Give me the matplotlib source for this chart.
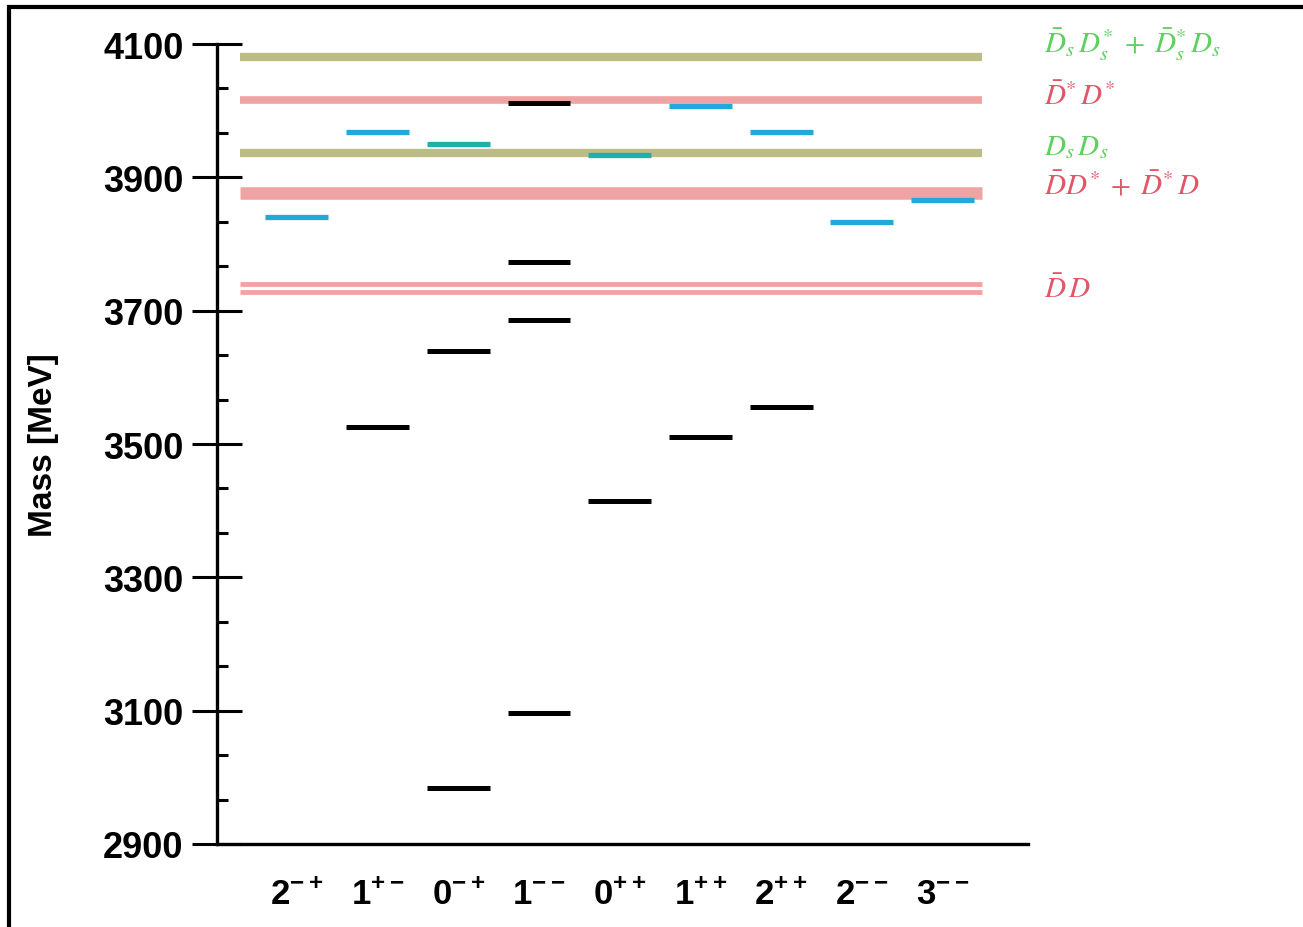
import numpy as np
import matplotlib
matplotlib.use("Agg")
import matplotlib.pyplot as plt
from matplotlib.patches import Rectangle

plt.rcParams['font.family'] = ['Liberation Sans', 'DejaVu Sans']
plt.rcParams['mathtext.fontset'] = 'custom'
plt.rcParams['mathtext.rm'] = 'Liberation Sans:bold'
plt.rcParams['mathtext.bf'] = 'Liberation Sans:bold'
plt.rcParams['mathtext.it'] = 'Liberation Sans:bold'

# J^PC channels
categories = ['2^{-+}', '1^{+-}', '0^{-+}', '1^{--}', '0^{++}', '1^{++}', '2^{++}', '2^{--}', '3^{--}']

# experimental states (black)
obs_cat = ['1^{+-}', '0^{-+}', '0^{-+}', '1^{--}', '1^{--}', '1^{--}', '1^{--}', '0^{++}', '1^{++}', '2^{++}']
obs_mass = [3525, 3639, 2984, 4012, 3773, 3686, 3097, 3415, 3511, 3556]

# predicted states (cyan)
pred_cat = ['2^{-+}', '1^{+-}', '0^{-+}', '0^{++}', '1^{++}', '2^{++}', '2^{--}', '3^{--}']
pred_mass = [3840, 3968, 3950, 3933, 4007, 3968, 3833, 3866]

# open-charm thresholds
thr_mass = [4080, 4016, 3937, 3876, 3740, 3728]
thr_kind = ['s', 'n', 's', 'n', 'n', 'n']
thr_width = [6, 5.5, 6, 9, 3.5, 3.5]

thr_labels = [r'$\bar{D}_s\,D_s^{*}\;+\;\bar{D}_s^{*}\,D_s$', r'$\bar{D}^{*}\,D^{*}$',
              r'$D_s\,D_s$', r'$\bar{D}D^{*}\;+\;\bar{D}^{*}\,D$', r'$\bar{D}\,D$']
label_mass = [4100, 4022, 3947, 3889, 3733]
label_kind = ['s', 'n', 's', 'n', 'n']

band_col = {'s': '#bcbc88', 'n': '#f0a3a3'}
text_col = {'s': '#5fd05f', 'n': '#e05868'}

fig = plt.figure(figsize=(13.03, 9.28), dpi=100)
ax = fig.add_axes([217/1303, 83/928, (1028-217)/1303, 800/928])

xpos = {c: i + 1 for i, c in enumerate(categories)}
hw = 0.39

for m, k, w in zip(thr_mass, thr_kind, thr_width):
    ax.hlines(m, 0.29, 9.49, colors=band_col[k], linewidth=w, zorder=1)

for c, m in zip(pred_cat, pred_mass):
    col = '#1fb0a8' if c in ('0^{-+}', '0^{++}') else '#22a9d8'
    ax.hlines(m, xpos[c] - hw, xpos[c] + hw, colors=col, linewidth=3.8, zorder=3)

for c, m in zip(obs_cat, obs_mass):
    ax.hlines(m, xpos[c] - hw, xpos[c] + hw, colors='black', linewidth=3.6, zorder=3)

for t, m, k in zip(thr_labels, label_mass, label_kind):
    ax.text(10.26, m, t, color=text_col[k], fontsize=21, va='center', ha='left',
            math_fontfamily='stix', clip_on=False)

ax.set_xlim(0.01, 10.06)
ax.set_ylim(2900, 4100)
ax.set_yticks(np.arange(2900, 4101, 200))
ax.set_yticks([v for v in np.arange(2900, 4101, 200/3) if abs((v - 2900) % 200) > 1 and abs((v - 2900) % 200 - 200) > 1], minor=True)
ax.set_xticks(range(1, len(categories) + 1))
ax.set_xticklabels(['$' + c + '$' for c in categories])

for lab in ax.get_yticklabels():
    lab.set_fontweight('bold')
ax.tick_params(axis='y', which='major', direction='inout', length=36, width=2.2, labelsize=26, pad=6)
ax.tick_params(axis='y', which='minor', direction='in', length=8, width=2.2)
ax.tick_params(axis='x', length=0, labelsize=25, pad=24)

for s in ['top', 'right']:
    ax.spines[s].set_visible(False)
for s in ['left', 'bottom']:
    ax.spines[s].set_linewidth(2.4)

ax.set_ylabel('Mass [MeV]', fontsize=24, fontweight='bold', labelpad=32)

fig.patches.append(Rectangle((9/1303, -0.1), 1.2, (920)/928 + 0.1, transform=fig.transFigure,
                             fill=False, edgecolor='black', linewidth=3, clip_on=False))

fig.savefig('out.png', dpi=100)
